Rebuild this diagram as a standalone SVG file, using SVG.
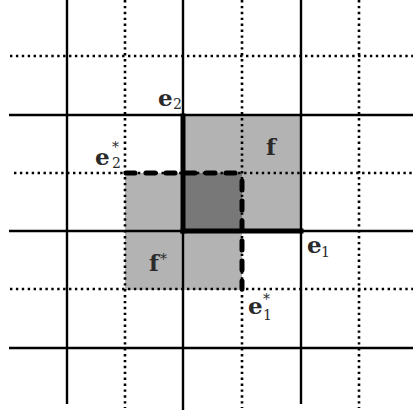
<svg xmlns="http://www.w3.org/2000/svg" width="413" height="413" viewBox="0 0 413 413">
<style>
.solid{stroke:#000;stroke-width:2.4;fill:none}
.dot{stroke:#000;stroke-width:2.6;stroke-dasharray:2.4 3.5;fill:none}
.thick{stroke:#000;stroke-width:5;fill:none;stroke-linecap:square}
.dash{stroke:#000;stroke-width:5;fill:none;stroke-linecap:round;stroke-dasharray:9 11}
.lbl{font-family:"DejaVu Serif",serif;font-weight:bold;font-size:23px;fill:#2a2a2a}
.sub{font-family:"DejaVu Serif",serif;font-weight:normal;font-size:14px;fill:#2a2a2a}
</style>
<rect width="413" height="413" fill="#fff"/>
<g id="faces">
<rect x="183" y="115" width="117" height="116" fill="#b3b3b3"/>
<rect x="125" y="173" width="117" height="117" fill="#b3b3b3"/>
<rect x="183" y="173" width="59" height="58" fill="#787878"/>
</g>
<g id="grid">
<line class="solid" x1="67" y1="0" x2="67" y2="404"/>
<line class="solid" x1="183" y1="0" x2="183" y2="410"/>
<line class="solid" x1="301" y1="0" x2="301" y2="404"/>
<line class="dot" x1="125" y1="0" x2="125" y2="408"/>
<line class="dot" x1="242" y1="0" x2="242" y2="408"/>
<line class="dot" x1="359" y1="0" x2="359" y2="408"/>
<line class="solid" x1="9" y1="115" x2="413" y2="115"/>
<line class="solid" x1="9" y1="231" x2="413" y2="231"/>
<line class="solid" x1="9" y1="348" x2="413" y2="348"/>
<line class="dot" x1="10" y1="56" x2="413" y2="56"/>
<line class="dot" x1="14" y1="173" x2="413" y2="173"/>
<line class="dot" x1="10" y1="289" x2="413" y2="289"/>
</g>
<g id="edges">
<line class="thick" x1="183" y1="116" x2="183" y2="231"/>
<line class="thick" x1="183" y1="231" x2="301" y2="231"/>
<line class="dash" x1="126" y1="173" x2="241" y2="173"/>
<line class="dash" x1="242" y1="181" x2="242" y2="289"/>
</g>
<g id="labels">
<text class="lbl" x="158" y="106">e</text><text class="sub" x="173" y="109">2</text>
<text class="lbl" x="266" y="155">f</text>
<text class="lbl" x="95" y="165">e</text><text class="sub" x="112" y="168">2</text><text class="sub" x="112" y="152">*</text>
<text class="lbl" x="307" y="253">e</text><text class="sub" x="321" y="257">1</text>
<text class="lbl" x="149" y="271">f</text><text class="sub" x="160" y="264">*</text>
<text class="lbl" x="248" y="314">e</text><text class="sub" x="263" y="320">1</text><text class="sub" x="263" y="304">*</text>
</g>
</svg>
